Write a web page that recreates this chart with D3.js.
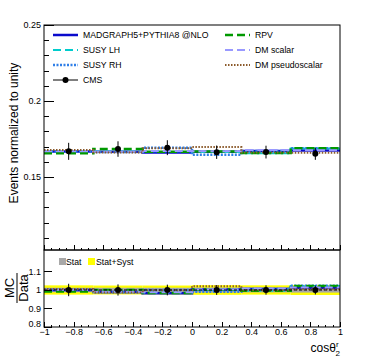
<!doctype HTML>
<html lang="en">
<head>
<meta charset="utf-8">
<title>cos theta_2^r normalized distribution</title>
<script src="https://d3js.org/d3.v7.min.js"></script>
<style type="text/css">
  body { margin: 0; background: white; }
  text { font-family: "Liberation Sans", Arial, sans-serif; }
  .axis path { display: none; }
  .axis line { stroke: black; shape-rendering: crispEdges; }
  .axis text { font-size: 9px; fill: black; }
</style>
</head>
<body>
<script type="text/javascript">

// bin edges in cos theta
var binEdges = [-1, -2/3, -1/3, 0, 1/3, 2/3, 1];

// data points (normalized) and their errors
var dataValues = [0.1669, 0.1684, 0.1693, 0.1663, 0.1664, 0.1653];
var dataErrors = [0.0056, 0.0051, 0.0049, 0.0044, 0.0042, 0.0040];

// simulated distributions
var mg5      = [0.1668, 0.1666, 0.1662, 0.1667, 0.1672, 0.1674];
var susyLH   = [0.1672, 0.1668, 0.1670, 0.1665, 0.1656, 0.1688];
var susyRH   = [0.1668, 0.1664, 0.1693, 0.1646, 0.1672, 0.1690];
var rpv      = [0.1656, 0.1684, 0.1666, 0.1668, 0.1658, 0.1689];
var dmScalar = [0.1670, 0.1667, 0.1672, 0.1670, 0.1678, 0.1676];
var dmPseudo = [0.1677, 0.1662, 0.1690, 0.1697, 0.1661, 0.1660];

// relative uncertainty bands in the ratio panel
var statBand = [0.012, 0.012, 0.012, 0.013, 0.013, 0.014];
var systBand = [0.025, 0.024, 0.024, 0.026, 0.025, 0.027];

var mainTicks = [0.15, 0.2, 0.25];
var ratioTicks = [0.8, 0.9, 1, 1.1];
var xTicks = [-1, -0.8, -0.6, -0.4, -0.2, 0, 0.2, 0.4, 0.6, 0.8, 1];

var series = [
  {name: "MADGRAPH5+PYTHIA8 @NLO", values: mg5, color: "#0a0acc", dash: null, w: 2.5},
  {name: "SUSY LH", values: susyLH, color: "#00cccc", dash: "8,4", w: 2},
  {name: "SUSY RH", values: susyRH, color: "#2f7fe8", dash: "2,1.5", w: 2.5},
  {name: "RPV", values: rpv, color: "#009900", dash: "8,4", w: 2.5},
  {name: "DM scalar", values: dmScalar, color: "#9999ff", dash: "8,4", w: 2},
  {name: "DM pseudoscalar", values: dmPseudo, color: "#8b5a2b", dash: "1.5,1.5", w: 2}
];

var W = 370, H = 360;
var left = 44, right = 340, mainTop = 25, mainBottom = 250, ratioBottom = 327;

var svg = d3.select("body").append("svg")
  .attr("width", W).attr("height", H);

var x = d3.scaleLinear().domain([-1, 1]).range([left, right]);
var y = d3.scaleLinear().domain([0.102, 0.25]).range([mainBottom, mainTop]);
var yr = d3.scaleLinear().domain([0.8, 1.216]).range([ratioBottom, mainBottom]);

function stepPoints(vals) {
  var pts = vals.map(function(v, i) { return [binEdges[i], v]; });
  pts.push([binEdges[binEdges.length - 1], vals[vals.length - 1]]);
  return pts;
}

function minorRange(a, b, step) {
  var out = [];
  for (var i = 0; a + i * step <= b + 1e-9; i++) out.push(+(a + i * step).toFixed(4));
  return out;
}

// ---------- main panel ----------
var lineMain = d3.line()
  .x(function(d) { return x(d[0]); })
  .y(function(d) { return y(d[1]); })
  .curve(d3.curveStepAfter);

series.forEach(function(s) {
  svg.append("path")
    .datum(stepPoints(s.values))
    .attr("fill", "none")
    .attr("stroke", s.color)
    .attr("stroke-width", s.w)
    .attr("stroke-dasharray", s.dash)
    .attr("d", lineMain);
});

var centers = dataValues.map(function(v, i) { return (binEdges[i] + binEdges[i + 1]) / 2; });

var pts = svg.append("g");
dataValues.forEach(function(v, i) {
  pts.append("line")
    .attr("x1", x(centers[i])).attr("x2", x(centers[i]))
    .attr("y1", y(v - dataErrors[i])).attr("y2", y(v + dataErrors[i]))
    .attr("stroke", "black").attr("stroke-width", 1);
  pts.append("circle")
    .attr("cx", x(centers[i])).attr("cy", y(v)).attr("r", 3)
    .attr("fill", "black");
});

// frame
svg.append("rect")
  .attr("x", left).attr("y", mainTop)
  .attr("width", right - left).attr("height", mainBottom - mainTop)
  .attr("fill", "none").attr("stroke", "black").attr("stroke-width", 1);

// y axis main
svg.append("g").attr("class", "axis")
  .attr("transform", "translate(" + left + ",0)")
  .call(d3.axisLeft(y).tickValues(minorRange(0.11, 0.24, 0.01)).tickSize(-5).tickFormat(""));
svg.append("g").attr("class", "axis")
  .attr("transform", "translate(" + left + ",0)")
  .call(d3.axisLeft(y).tickValues(mainTicks).tickSize(-10).tickPadding(3).tickFormat(d3.format("~g")));

// x ticks main (no labels)
svg.append("g").attr("class", "axis")
  .attr("transform", "translate(0," + mainBottom + ")")
  .call(d3.axisBottom(x).tickValues(minorRange(-1, 1, 0.05)).tickSize(-2.5).tickFormat(""));
svg.append("g").attr("class", "axis")
  .attr("transform", "translate(0," + mainBottom + ")")
  .call(d3.axisBottom(x).tickValues(xTicks).tickSize(-5).tickFormat(""));

svg.append("text")
  .attr("transform", "translate(18,133) rotate(-90)")
  .attr("text-anchor", "middle")
  .style("font-size", "12px")
  .text("Events normalized to unity");

// legend
var legendPos = [[53, 35], [53, 50], [53, 65], [225, 35], [225, 50], [225, 65]];
series.forEach(function(s, i) {
  var p = legendPos[i];
  svg.append("line")
    .attr("x1", p[0]).attr("x2", p[0] + 25)
    .attr("y1", p[1]).attr("y2", p[1])
    .attr("stroke", s.color).attr("stroke-width", s.w)
    .attr("stroke-dasharray", s.dash);
  svg.append("text")
    .attr("x", p[0] + 30).attr("y", p[1] + 3)
    .style("font-size", "8.7px")
    .text(s.name);
});
svg.append("line")
  .attr("x1", 53).attr("x2", 78).attr("y1", 80).attr("y2", 80)
  .attr("stroke", "black").attr("stroke-width", 1);
svg.append("circle").attr("cx", 65.5).attr("cy", 80).attr("r", 3).attr("fill", "black");
svg.append("text").attr("x", 83).attr("y", 83).style("font-size", "8.7px").text("CMS");

// ---------- ratio panel ----------
var bands = [{vals: systBand, color: "#ffff00"}, {vals: statBand, color: "#a8a8a8"}];
bands.forEach(function(b) {
  svg.append("g").selectAll("rect")
    .data(b.vals)
    .enter()
    .append("rect")
    .attr("x", function(d, i) { return x(binEdges[i]); })
    .attr("width", function(d, i) { return x(binEdges[i + 1]) - x(binEdges[i]); })
    .attr("y", function(d) { return yr(1 + d); })
    .attr("height", function(d) { return yr(1 - d) - yr(1 + d); })
    .attr("fill", b.color);
});

var lineRatio = d3.line()
  .x(function(d) { return x(d[0]); })
  .y(function(d) { return yr(d[1]); })
  .curve(d3.curveStepAfter);

series.forEach(function(s) {
  var ratio = s.values.map(function(v, i) { return v / dataValues[i]; });
  svg.append("path")
    .datum(stepPoints(ratio))
    .attr("fill", "none")
    .attr("stroke", s.color)
    .attr("stroke-width", s.w)
    .attr("stroke-dasharray", s.dash)
    .attr("d", lineRatio);
});

svg.append("line")
  .attr("x1", left).attr("x2", right)
  .attr("y1", yr(1)).attr("y2", yr(1))
  .attr("stroke", "black").attr("stroke-width", 1)
  .attr("stroke-dasharray", "3,2");

dataValues.forEach(function(v, i) {
  var rel = dataErrors[i] / v;
  svg.append("line")
    .attr("x1", x(centers[i])).attr("x2", x(centers[i]))
    .attr("y1", yr(1 - rel)).attr("y2", yr(1 + rel))
    .attr("stroke", "black").attr("stroke-width", 1);
  svg.append("circle")
    .attr("cx", x(centers[i])).attr("cy", yr(1)).attr("r", 3)
    .attr("fill", "black");
});

svg.append("rect")
  .attr("x", left).attr("y", mainBottom)
  .attr("width", right - left).attr("height", ratioBottom - mainBottom)
  .attr("fill", "none").attr("stroke", "black").attr("stroke-width", 1);

var ratioAxis = svg.append("g").attr("class", "axis")
  .attr("transform", "translate(" + left + ",0)")
  .call(d3.axisLeft(yr).tickValues(ratioTicks).tickSize(-8).tickPadding(3).tickFormat(d3.format("~g")));
// lift the lowest label a little so it clears the "-1" of the x axis
ratioAxis.selectAll(".tick text").filter(function(d) { return d === 0.8; }).attr("dy", "-0.05em");

svg.append("g").attr("class", "axis")
  .attr("transform", "translate(0," + ratioBottom + ")")
  .call(d3.axisBottom(x).tickValues(minorRange(-1, 1, 0.05)).tickSize(-2.5).tickFormat(""));
svg.append("g").attr("class", "axis")
  .attr("transform", "translate(0," + ratioBottom + ")")
  .call(d3.axisBottom(x).tickValues(xTicks).tickSize(-5).tickPadding(2).tickFormat(d3.format("~g")));

// ratio legend
svg.append("rect").attr("x", 59).attr("y", 258).attr("width", 7).attr("height", 7).attr("fill", "#a8a8a8");
svg.append("text").attr("x", 66).attr("y", 265).style("font-size", "8.7px").text("Stat");
svg.append("rect").attr("x", 88).attr("y", 258).attr("width", 7).attr("height", 7).attr("fill", "#ffff00");
svg.append("text").attr("x", 96).attr("y", 265).style("font-size", "8.7px").text("Stat+Syst");

// ratio y title as a fraction
var frac = svg.append("g").attr("transform", "translate(17,288) rotate(-90)");
frac.append("text").attr("x", 0).attr("y", -3).attr("text-anchor", "middle")
  .style("font-size", "13px").text("MC");
frac.append("line").attr("x1", -15).attr("x2", 15).attr("y1", 0).attr("y2", 0)
  .attr("stroke", "black").attr("stroke-width", 1);
frac.append("text").attr("x", 0).attr("y", 11).attr("text-anchor", "middle")
  .style("font-size", "13px").text("Data");

// x title
var xt = svg.append("text").attr("x", 340).attr("y", 352).attr("text-anchor", "end")
  .style("font-size", "12px");
xt.append("tspan").text("cos\u03b8");
xt.append("tspan").attr("dy", -5).style("font-size", "8px").text("r");
xt.append("tspan").attr("dx", -3).attr("dy", 9).style("font-size", "8px").text("2");

</script>
</body>
</html>
